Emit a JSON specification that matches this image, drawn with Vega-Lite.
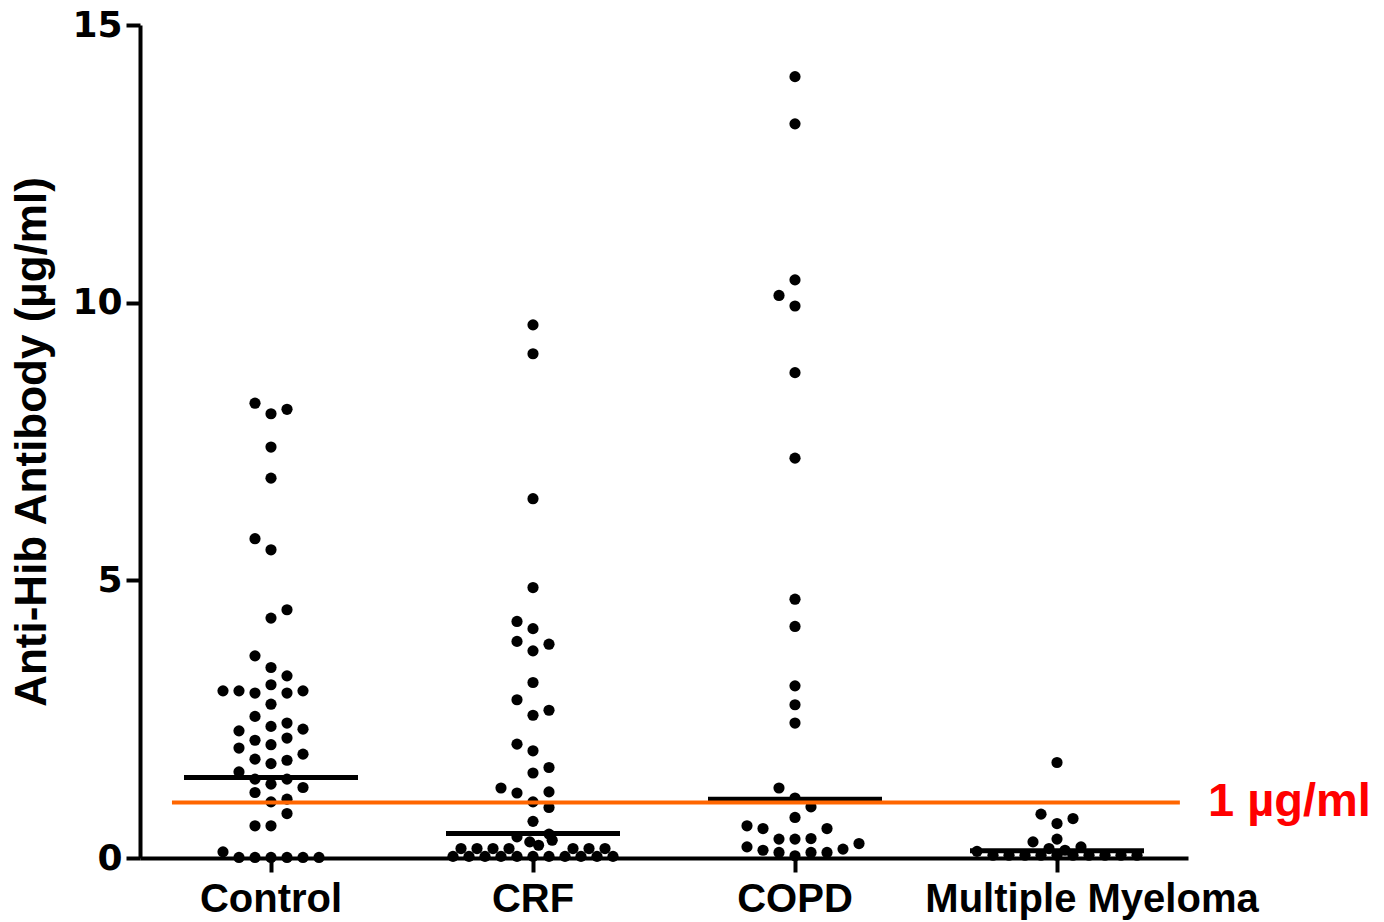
{
  "$schema": "https://vega.github.io/schema/vega-lite/v6.json",
  "width": 1048,
  "height": 833,
  "autosize": "none",
  "padding": {"left": 140, "top": 25, "right": 196, "bottom": 64},
  "background": "white",
  "config": {"view": {"stroke": null}, "axis": {"grid": false}},
  "datasets": {
    "points": [
      {"group": "Control", "value": 8.19, "slot": -1},
      {"group": "Control", "value": 8.0, "slot": 0},
      {"group": "Control", "value": 8.08, "slot": 1},
      {"group": "Control", "value": 7.4, "slot": 0},
      {"group": "Control", "value": 6.84, "slot": 0},
      {"group": "Control", "value": 5.75, "slot": -1},
      {"group": "Control", "value": 5.55, "slot": 0},
      {"group": "Control", "value": 4.47, "slot": 1},
      {"group": "Control", "value": 4.32, "slot": 0},
      {"group": "Control", "value": 3.64, "slot": -1},
      {"group": "Control", "value": 3.43, "slot": 0},
      {"group": "Control", "value": 3.28, "slot": 1},
      {"group": "Control", "value": 3.01, "slot": -3},
      {"group": "Control", "value": 3.01, "slot": -2},
      {"group": "Control", "value": 2.97, "slot": -1},
      {"group": "Control", "value": 3.12, "slot": 0},
      {"group": "Control", "value": 2.97, "slot": 1},
      {"group": "Control", "value": 3.01, "slot": 2},
      {"group": "Control", "value": 2.77, "slot": 0},
      {"group": "Control", "value": 2.55, "slot": -1},
      {"group": "Control", "value": 2.29, "slot": -2},
      {"group": "Control", "value": 2.37, "slot": 0},
      {"group": "Control", "value": 2.43, "slot": 1},
      {"group": "Control", "value": 2.32, "slot": 2},
      {"group": "Control", "value": 2.12, "slot": -1},
      {"group": "Control", "value": 2.04, "slot": 0},
      {"group": "Control", "value": 2.16, "slot": 1},
      {"group": "Control", "value": 1.98, "slot": -2},
      {"group": "Control", "value": 1.78, "slot": -1},
      {"group": "Control", "value": 1.7, "slot": 0},
      {"group": "Control", "value": 1.76, "slot": 1},
      {"group": "Control", "value": 1.87, "slot": 2},
      {"group": "Control", "value": 1.55, "slot": -2},
      {"group": "Control", "value": 1.42, "slot": -1},
      {"group": "Control", "value": 1.33, "slot": 0},
      {"group": "Control", "value": 1.42, "slot": 1},
      {"group": "Control", "value": 1.27, "slot": 2},
      {"group": "Control", "value": 1.18, "slot": -1},
      {"group": "Control", "value": 1.01, "slot": 0},
      {"group": "Control", "value": 1.06, "slot": 1},
      {"group": "Control", "value": 0.8, "slot": 1},
      {"group": "Control", "value": 0.58, "slot": -1},
      {"group": "Control", "value": 0.58, "slot": 0},
      {"group": "Control", "value": 0.11, "slot": -3},
      {"group": "Control", "value": 0.01, "slot": -2},
      {"group": "Control", "value": 0.01, "slot": -1},
      {"group": "Control", "value": 0.01, "slot": 0},
      {"group": "Control", "value": 0.01, "slot": 1},
      {"group": "Control", "value": 0.01, "slot": 2},
      {"group": "Control", "value": 0.01, "slot": 3},
      {"group": "CRF", "value": 9.6, "slot": 0},
      {"group": "CRF", "value": 9.08, "slot": 0},
      {"group": "CRF", "value": 6.47, "slot": 0},
      {"group": "CRF", "value": 4.87, "slot": 0},
      {"group": "CRF", "value": 4.26, "slot": -1},
      {"group": "CRF", "value": 4.13, "slot": 0},
      {"group": "CRF", "value": 3.9, "slot": -1},
      {"group": "CRF", "value": 3.85, "slot": 1},
      {"group": "CRF", "value": 3.73, "slot": 0},
      {"group": "CRF", "value": 3.16, "slot": 0},
      {"group": "CRF", "value": 2.85, "slot": -1},
      {"group": "CRF", "value": 2.66, "slot": 1},
      {"group": "CRF", "value": 2.57, "slot": 0},
      {"group": "CRF", "value": 2.05, "slot": -1},
      {"group": "CRF", "value": 1.93, "slot": 0},
      {"group": "CRF", "value": 1.63, "slot": 1},
      {"group": "CRF", "value": 1.53, "slot": 0},
      {"group": "CRF", "value": 1.26, "slot": -2},
      {"group": "CRF", "value": 1.17, "slot": -1},
      {"group": "CRF", "value": 1.19, "slot": 1},
      {"group": "CRF", "value": 1.01, "slot": 0},
      {"group": "CRF", "value": 0.91, "slot": 1},
      {"group": "CRF", "value": 0.66, "slot": 0},
      {"group": "CRF", "value": 0.38, "slot": -1},
      {"group": "CRF", "value": 0.43, "slot": 1},
      {"group": "CRF", "value": 0.29, "slot": -0.2},
      {"group": "CRF", "value": 0.23, "slot": 0.35},
      {"group": "CRF", "value": 0.32, "slot": 1.2},
      {"group": "CRF", "value": 0.17, "slot": -4.5},
      {"group": "CRF", "value": 0.17, "slot": -3.5},
      {"group": "CRF", "value": 0.17, "slot": -2.5},
      {"group": "CRF", "value": 0.17, "slot": -1.5},
      {"group": "CRF", "value": 0.17, "slot": 2.5},
      {"group": "CRF", "value": 0.17, "slot": 3.5},
      {"group": "CRF", "value": 0.17, "slot": 4.5},
      {"group": "CRF", "value": 0.03, "slot": -5},
      {"group": "CRF", "value": 0.03, "slot": -4},
      {"group": "CRF", "value": 0.03, "slot": -3},
      {"group": "CRF", "value": 0.03, "slot": -2},
      {"group": "CRF", "value": 0.03, "slot": -1},
      {"group": "CRF", "value": 0.03, "slot": 0},
      {"group": "CRF", "value": 0.03, "slot": 1},
      {"group": "CRF", "value": 0.03, "slot": 2},
      {"group": "CRF", "value": 0.03, "slot": 3},
      {"group": "CRF", "value": 0.03, "slot": 4},
      {"group": "CRF", "value": 0.03, "slot": 5},
      {"group": "COPD", "value": 14.07, "slot": 0},
      {"group": "COPD", "value": 13.22, "slot": 0},
      {"group": "COPD", "value": 10.41, "slot": 0},
      {"group": "COPD", "value": 10.13, "slot": -1},
      {"group": "COPD", "value": 9.94, "slot": 0},
      {"group": "COPD", "value": 8.74, "slot": 0},
      {"group": "COPD", "value": 7.2, "slot": 0},
      {"group": "COPD", "value": 4.66, "slot": 0},
      {"group": "COPD", "value": 4.17, "slot": 0},
      {"group": "COPD", "value": 3.1, "slot": 0},
      {"group": "COPD", "value": 2.76, "slot": 0},
      {"group": "COPD", "value": 2.43, "slot": 0},
      {"group": "COPD", "value": 1.26, "slot": -1},
      {"group": "COPD", "value": 1.08, "slot": 0},
      {"group": "COPD", "value": 0.92, "slot": 1},
      {"group": "COPD", "value": 0.73, "slot": 0},
      {"group": "COPD", "value": 0.58, "slot": -3},
      {"group": "COPD", "value": 0.53, "slot": -2},
      {"group": "COPD", "value": 0.53, "slot": 2},
      {"group": "COPD", "value": 0.34, "slot": -1},
      {"group": "COPD", "value": 0.34, "slot": 0},
      {"group": "COPD", "value": 0.35, "slot": 1},
      {"group": "COPD", "value": 0.2, "slot": -3},
      {"group": "COPD", "value": 0.14, "slot": -2},
      {"group": "COPD", "value": 0.16, "slot": 3},
      {"group": "COPD", "value": 0.26, "slot": 4},
      {"group": "COPD", "value": 0.1, "slot": -1},
      {"group": "COPD", "value": 0.04, "slot": 0},
      {"group": "COPD", "value": 0.1, "slot": 1},
      {"group": "COPD", "value": 0.1, "slot": 2},
      {"group": "Multiple Myeloma", "value": 1.72, "slot": 0},
      {"group": "Multiple Myeloma", "value": 0.79, "slot": -1},
      {"group": "Multiple Myeloma", "value": 0.62, "slot": 0},
      {"group": "Multiple Myeloma", "value": 0.71, "slot": 1},
      {"group": "Multiple Myeloma", "value": 0.29, "slot": -1.5},
      {"group": "Multiple Myeloma", "value": 0.34, "slot": 0},
      {"group": "Multiple Myeloma", "value": 0.17, "slot": -0.5},
      {"group": "Multiple Myeloma", "value": 0.14, "slot": 0.5},
      {"group": "Multiple Myeloma", "value": 0.2, "slot": 1.5},
      {"group": "Multiple Myeloma", "value": 0.12, "slot": -5},
      {"group": "Multiple Myeloma", "value": 0.05, "slot": -4},
      {"group": "Multiple Myeloma", "value": 0.05, "slot": -3},
      {"group": "Multiple Myeloma", "value": 0.05, "slot": -2},
      {"group": "Multiple Myeloma", "value": 0.05, "slot": -1},
      {"group": "Multiple Myeloma", "value": 0.05, "slot": 0},
      {"group": "Multiple Myeloma", "value": 0.05, "slot": 1},
      {"group": "Multiple Myeloma", "value": 0.05, "slot": 2},
      {"group": "Multiple Myeloma", "value": 0.05, "slot": 3},
      {"group": "Multiple Myeloma", "value": 0.05, "slot": 4},
      {"group": "Multiple Myeloma", "value": 0.05, "slot": 5}
    ],
    "medians": [
      {"group": "Control", "median": 1.45},
      {"group": "CRF", "median": 0.44},
      {"group": "COPD", "median": 1.06},
      {"group": "Multiple Myeloma", "median": 0.13}
    ],
    "threshold": [
      {"level": 1, "label": "1 µg/ml"}
    ]
  },
  "layer": [
    {
      "data": {"name": "points"},
      "mark": {"type": "circle", "size": 125, "color": "black", "opacity": 1},
      "encoding": {
        "x": {
          "field": "group", "type": "nominal",
          "sort": ["Control", "CRF", "COPD", "Multiple Myeloma"],
          "scale": {"type": "band", "paddingInner": 0, "paddingOuter": 0},
          "axis": {
            "title": null, "labelAngle": 0, "labelLimit": 0,
            "domainWidth": 4, "domainColor": "black",
            "tickWidth": 4, "tickSize": 14, "tickColor": "black",
            "labelFont": "Liberation Sans", "labelFontWeight": "bold",
            "labelFontSize": 40, "labelColor": "black", "labelPadding": 7,
            "labelOffset": {"condition": {"test": "datum.value === 'Multiple Myeloma'", "value": 35}, "value": 0}
          }
        },
        "xOffset": {"field": "slot", "type": "quantitative", "scale": {"domain": [-8.1875, 8.1875]}},
        "y": {
          "field": "value", "type": "quantitative",
          "scale": {"domain": [0, 15], "nice": false},
          "axis": {
            "values": [0, 5, 10, 15],
            "title": "Anti-Hib Antibody (µg/ml)",
            "titleFont": "Liberation Sans", "titleFontWeight": "bold",
            "titleFontSize": 44, "titleColor": "black", "titlePadding": 17,
            "domainWidth": 4, "domainColor": "black",
            "tickWidth": 4, "tickSize": 14, "tickColor": "black",
            "labelFont": "DejaVu Sans", "labelFontWeight": "bold",
            "labelFontSize": 36, "labelColor": "black", "labelPadding": 4
          }
        }
      }
    },
    {
      "data": {"name": "medians"},
      "mark": {"type": "tick", "color": "black", "size": 174, "thickness": 5, "opacity": 1},
      "encoding": {
        "x": {"field": "group", "type": "nominal", "sort": ["Control", "CRF", "COPD", "Multiple Myeloma"]},
        "y": {"field": "median", "type": "quantitative"}
      }
    },
    {
      "data": {"name": "threshold"},
      "mark": {"type": "rule", "color": "#FF6600", "strokeWidth": 4},
      "encoding": {
        "x": {"datum": "Control", "bandPosition": 0.122},
        "x2": {"datum": "Multiple Myeloma", "bandPosition": 0.969},
        "y": {"field": "level", "type": "quantitative"}
      }
    },
    {
      "data": {"name": "threshold"},
      "mark": {"type": "text", "color": "#FF0000", "font": "Liberation Sans", "fontWeight": "bold", "fontSize": 47, "align": "left", "baseline": "middle", "dx": 20},
      "encoding": {
        "x": {"datum": "Multiple Myeloma", "bandPosition": 1},
        "y": {"field": "level", "type": "quantitative"},
        "text": {"field": "label"}
      }
    }
  ]
}
